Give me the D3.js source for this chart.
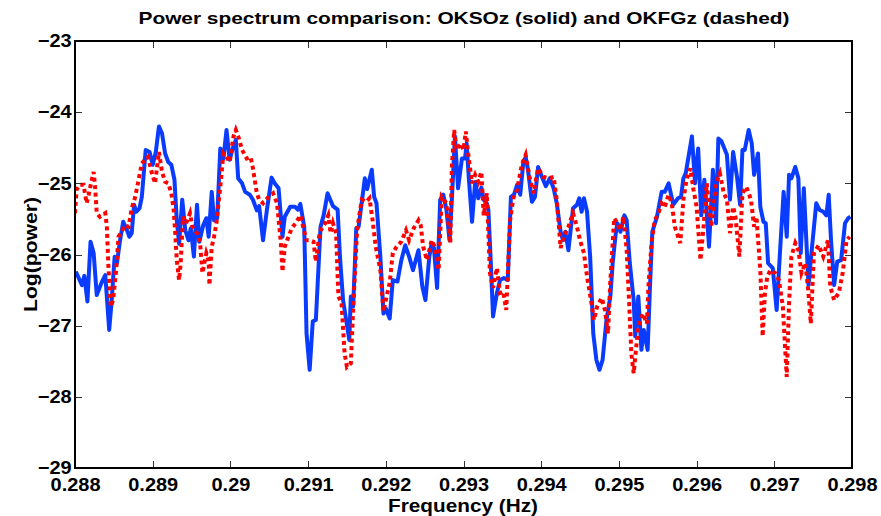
<!DOCTYPE html>
<meta charset="utf-8">
<style>
    body {
        margin: 0;
        background: #fff;
    }

    svg text {
        font-family: "Liberation Sans", Arial, Helvetica, sans-serif;
        font-weight: bold;
        fill: #000;
    }

    .tick line {
        stroke: #333;
        stroke-width: 1;
        shape-rendering: crispEdges;
    }
</style>

<body>
    <script src="https://d3js.org/d3.v7.min.js"></script>
    <script>

        // x axis ticks / labels
        var xTicks = [0.288, 0.289, 0.290, 0.291, 0.292, 0.293, 0.294, 0.295, 0.296, 0.297, 0.298];
        var xTickLabels = ["0.288", "0.289", "0.29", "0.291", "0.292", "0.293", "0.294", "0.295", "0.296", "0.297", "0.298"];
        var yTicks = [-29, -28, -27, -26, -25, -24, -23];
        var yTickLabels = ["\u221229", "\u221228", "\u221227", "\u221226", "\u221225", "\u221224", "\u221223"];

        // OKSOz (solid, blue)
        var solidFreq = [
            0.28801, 0.28809, 0.28812, 0.28816, 0.28820, 0.28824, 0.28828, 0.28834, 0.28839, 0.28844,
            0.28847, 0.28851, 0.28854, 0.28858, 0.28862, 0.28867, 0.28870, 0.28873, 0.28876, 0.28879,
            0.28883, 0.28886, 0.28891, 0.28896, 0.28900, 0.28904, 0.28908, 0.28912, 0.28916, 0.28920,
            0.28924, 0.28928, 0.28931, 0.28934, 0.28938, 0.28942, 0.28946, 0.28949, 0.28953, 0.28957,
            0.28960, 0.28965, 0.28969, 0.28972, 0.28976, 0.28979, 0.28983, 0.28987, 0.28991, 0.28995,
            0.28999, 0.29003, 0.29007, 0.29010, 0.29015, 0.29019, 0.29025, 0.29029, 0.29034, 0.29037,
            0.29042, 0.29047, 0.29053, 0.29057, 0.29062, 0.29067, 0.29070, 0.29077, 0.29083, 0.29087,
            0.29090, 0.29095, 0.29098, 0.29102, 0.29106, 0.29110, 0.29116, 0.29120, 0.29125, 0.29132,
            0.29138, 0.29141, 0.29145, 0.29153, 0.29155, 0.29158, 0.29162, 0.29165, 0.29170, 0.29173,
            0.29176, 0.29182, 0.29185, 0.29188, 0.29193, 0.29197, 0.29200, 0.29205, 0.29209, 0.29215,
            0.29220, 0.29225, 0.29230, 0.29235, 0.29242, 0.29247, 0.29251, 0.29256, 0.29259, 0.29262,
            0.29266, 0.29270, 0.29274, 0.29278, 0.29282, 0.29285, 0.29289, 0.29293, 0.29298, 0.29302,
            0.29304, 0.29307, 0.29311, 0.29315, 0.29319, 0.29323, 0.29326, 0.29330, 0.29332, 0.29335,
            0.29338, 0.29343, 0.29347, 0.29352, 0.29357, 0.29361, 0.29365, 0.29369, 0.29373, 0.29377,
            0.29380, 0.29383, 0.29388, 0.29392, 0.29396, 0.29401, 0.29406, 0.29411, 0.29416, 0.29420,
            0.29425, 0.29428, 0.29431, 0.29435, 0.29441, 0.29446, 0.29449, 0.29452, 0.29455, 0.29459,
            0.29463, 0.29467, 0.29471, 0.29475, 0.29479, 0.29484, 0.29489, 0.29492, 0.29496, 0.29498,
            0.29502, 0.29507, 0.29510, 0.29514, 0.29519, 0.29521, 0.29525, 0.29529, 0.29532, 0.29537,
            0.29540, 0.29543, 0.29549, 0.29555, 0.29559, 0.29564, 0.29570, 0.29576, 0.29580, 0.29583,
            0.29586, 0.29594, 0.29598, 0.29602, 0.29606, 0.29610, 0.29616, 0.29621, 0.29625, 0.29628,
            0.29632, 0.29639, 0.29643, 0.29647, 0.29652, 0.29656, 0.29659, 0.29662, 0.29667, 0.29671,
            0.29674, 0.29679, 0.29682, 0.29686, 0.29689, 0.29692, 0.29698, 0.29703, 0.29708, 0.29712,
            0.29716, 0.29719, 0.29722, 0.29727, 0.29731, 0.29734, 0.29738, 0.29744, 0.29748, 0.29754,
            0.29758, 0.29763, 0.29767, 0.29770, 0.29773, 0.29777, 0.29781, 0.29786, 0.29791, 0.29795,
            0.29798
        ];
        var solidPower = [
            -26.24, -26.43, -26.30, -26.66, -25.82, -25.98, -26.57, -26.40, -26.29, -27.06,
            -26.68, -26.03, -26.12, -25.80, -25.54, -25.66, -25.75, -25.70, -25.30, -25.40,
            -25.35, -25.19, -24.53, -24.56, -24.74, -24.56, -24.20, -24.30, -24.58, -24.70,
            -24.74, -24.95, -25.52, -25.85, -25.23, -25.66, -25.80, -25.63, -26.03, -25.30,
            -25.82, -25.59, -25.49, -25.75, -25.12, -25.52, -25.49, -24.51, -24.65, -24.25,
            -24.67, -24.51, -24.39, -24.93, -25.00, -25.12, -25.16, -25.23, -25.38, -25.32,
            -25.80, -25.37, -24.92, -25.00, -25.07, -25.75, -25.47, -25.33, -25.33, -25.37,
            -25.29, -25.61, -27.11, -27.62, -26.94, -26.92, -25.61, -25.45, -25.14, -25.32,
            -25.37, -26.03, -26.64, -27.20, -26.59, -26.73, -25.63, -25.61, -25.19, -24.93,
            -25.08, -24.81, -25.19, -25.28, -26.03, -26.83, -26.76, -26.90, -26.36, -26.38,
            -26.08, -25.87, -26.03, -26.22, -25.94, -26.45, -26.64, -26.03, -25.84, -25.91,
            -26.47, -25.23, -25.16, -25.37, -25.80, -25.23, -24.34, -25.07, -24.65, -24.65,
            -24.44, -24.95, -25.54, -24.98, -25.21, -25.06, -25.23, -25.28, -25.37, -26.08,
            -26.87, -26.54, -26.36, -26.33, -26.36, -25.19, -25.16, -25.02, -25.16, -24.70,
            -24.63, -24.81, -25.26, -25.19, -24.77, -24.91, -25.04, -24.93, -25.07, -25.28,
            -25.68, -25.80, -25.68, -25.94, -25.35, -25.30, -25.21, -25.40, -25.21, -25.40,
            -26.03, -27.11, -27.48, -27.62, -27.48, -26.92, -26.59, -26.12, -25.70, -25.56,
            -25.68, -25.45, -25.52, -26.12, -26.64, -27.15, -26.59, -27.34, -27.06, -27.34,
            -26.45, -25.68, -25.47, -25.12, -25.12, -25.00, -25.30, -25.21, -25.19, -24.93,
            -24.86, -24.34, -25.00, -24.51, -25.45, -24.95, -25.89, -24.81, -25.56, -24.37,
            -24.41, -24.60, -25.23, -24.56, -24.91, -25.30, -24.53, -24.53, -24.25, -24.44,
            -24.88, -24.58, -25.33, -25.54, -25.56, -26.12, -26.19, -26.78, -25.84, -25.12,
            -25.75, -24.88, -24.93, -24.77, -24.93, -25.98, -25.07, -26.43, -25.96, -25.28,
            -25.37, -25.40, -25.45, -25.16, -25.80, -26.43, -26.10, -26.08, -25.56, -25.49,
            -25.47
        ];

        // OKFGz (dashed, red)
        var dashedFreq = [
            0.28800, 0.28802, 0.28806, 0.28811, 0.28815, 0.28818, 0.28821, 0.28824, 0.28826, 0.28828,
            0.28832, 0.28839, 0.28841, 0.28843, 0.28846, 0.28849, 0.28853, 0.28856, 0.28860, 0.28864,
            0.28869, 0.28873, 0.28877, 0.28881, 0.28886, 0.28890, 0.28894, 0.28899, 0.28903, 0.28906,
            0.28908, 0.28912, 0.28916, 0.28920, 0.28924, 0.28927, 0.28929, 0.28931, 0.28934, 0.28936,
            0.28939, 0.28943, 0.28948, 0.28951, 0.28957, 0.28961, 0.28964, 0.28969, 0.28972, 0.28973,
            0.28976, 0.28979, 0.28982, 0.28987, 0.28991, 0.28995, 0.28999, 0.29004, 0.29007, 0.29011,
            0.29015, 0.29021, 0.29026, 0.29029, 0.29034, 0.29037, 0.29042, 0.29049, 0.29055, 0.29060,
            0.29065, 0.29067, 0.29070, 0.29073, 0.29079, 0.29084, 0.29090, 0.29094, 0.29098, 0.29102,
            0.29107, 0.29110, 0.29115, 0.29122, 0.29126, 0.29129, 0.29132, 0.29136, 0.29139, 0.29143,
            0.29147, 0.29150, 0.29155, 0.29158, 0.29163, 0.29169, 0.29175, 0.29179, 0.29183, 0.29187,
            0.29193, 0.29197, 0.29201, 0.29205, 0.29209, 0.29214, 0.29220, 0.29226, 0.29230, 0.29236,
            0.29242, 0.29245, 0.29248, 0.29253, 0.29259, 0.29263, 0.29268, 0.29272, 0.29278, 0.29283,
            0.29285, 0.29288, 0.29291, 0.29296, 0.29300, 0.29303, 0.29306, 0.29311, 0.29315, 0.29319,
            0.29323, 0.29326, 0.29330, 0.29334, 0.29338, 0.29343, 0.29347, 0.29351, 0.29355, 0.29360,
            0.29364, 0.29369, 0.29375, 0.29380, 0.29385, 0.29390, 0.29396, 0.29403, 0.29409, 0.29416,
            0.29420, 0.29425, 0.29429, 0.29435, 0.29441, 0.29446, 0.29450, 0.29455, 0.29459, 0.29464,
            0.29468, 0.29472, 0.29478, 0.29482, 0.29486, 0.29489, 0.29494, 0.29498, 0.29501, 0.29506,
            0.29510, 0.29513, 0.29516, 0.29519, 0.29521, 0.29525, 0.29531, 0.29536, 0.29538, 0.29542,
            0.29546, 0.29551, 0.29555, 0.29559, 0.29564, 0.29568, 0.29572, 0.29579, 0.29583, 0.29587,
            0.29592, 0.29596, 0.29600, 0.29605, 0.29609, 0.29613, 0.29619, 0.29625, 0.29630, 0.29635,
            0.29639, 0.29643, 0.29647, 0.29650, 0.29655, 0.29659, 0.29664, 0.29670, 0.29674, 0.29677,
            0.29682, 0.29685, 0.29688, 0.29691, 0.29695, 0.29701, 0.29706, 0.29711, 0.29716, 0.29719,
            0.29722, 0.29727, 0.29731, 0.29735, 0.29740, 0.29744, 0.29747, 0.29751, 0.29757, 0.29763,
            0.29769, 0.29772, 0.29777, 0.29783, 0.29788, 0.29793, 0.29797
        ];
        var dashedPower = [
            -25.42, -25.09, -25.02, -25.02, -25.28, -25.14, -24.98, -24.84, -25.07, -25.42,
            -25.47, -25.42, -25.61, -26.17, -26.73, -26.64, -26.22, -25.75, -25.68, -25.59,
            -25.61, -25.35, -25.21, -25.00, -24.72, -24.67, -24.63, -24.86, -25.00, -24.74,
            -24.56, -24.84, -24.98, -25.00, -25.14, -25.37, -25.70, -26.08, -26.36, -26.12,
            -25.47, -25.56, -25.42, -25.61, -25.70, -25.84, -26.26, -25.98, -26.08, -26.43,
            -25.89, -25.75, -25.56, -25.05, -24.58, -24.63, -24.70, -24.34, -24.25, -24.37,
            -24.53, -24.65, -24.63, -24.79, -25.14, -25.23, -25.28, -25.19, -25.14, -25.28,
            -25.84, -26.24, -25.89, -25.80, -25.63, -25.56, -25.45, -25.63, -25.80, -25.80,
            -25.82, -26.10, -25.68, -25.56, -25.45, -25.70, -25.56, -25.70, -26.59, -26.68,
            -27.39, -27.58, -27.53, -26.76, -25.66, -25.23, -25.26, -25.21, -25.52, -25.89,
            -26.22, -26.80, -26.59, -26.40, -25.98, -25.89, -25.82, -25.66, -25.80, -25.63,
            -25.52, -25.59, -25.89, -26.08, -25.80, -25.89, -26.22, -25.19, -25.28, -25.84,
            -24.77, -24.25, -24.53, -24.44, -24.53, -24.27, -24.58, -25.00, -24.88, -24.98,
            -24.84, -25.45, -25.14, -26.26, -26.47, -26.19, -26.54, -26.52, -26.78, -25.52,
            -25.21, -25.09, -24.74, -24.60, -24.91, -25.14, -24.79, -24.91, -24.93, -24.91,
            -25.23, -25.91, -25.75, -25.61, -25.42, -25.61, -25.80, -25.98, -26.31, -26.64,
            -26.92, -26.73, -26.61, -26.78, -27.11, -26.36, -25.49, -25.56, -25.66, -25.47,
            -25.94, -26.64, -27.39, -27.67, -27.44, -27.01, -26.83, -26.97, -26.45, -25.84,
            -25.52, -25.42, -25.28, -25.33, -25.16, -25.28, -25.61, -25.84, -25.23, -24.95,
            -24.79, -25.09, -25.33, -26.08, -25.61, -25.00, -25.61, -25.00, -24.86, -25.14,
            -25.23, -25.70, -25.33, -25.47, -26.03, -25.14, -25.05, -25.23, -25.61, -25.47,
            -26.22, -27.15, -26.54, -26.31, -26.22, -26.26, -26.36, -26.73, -27.72, -26.68,
            -26.03, -25.84, -25.94, -26.26, -26.12, -26.54, -26.97, -25.98, -25.87, -26.03,
            -25.80, -26.45, -26.64, -26.54, -26.26, -25.80, -25.75
        ];

        var margin = { top: 41, right: 29, bottom: 48, left: 75 },
            width = 881 - margin.left - margin.right,
            height = 516 - margin.top - margin.bottom;

        var x = d3.scaleLinear().domain([0.288, 0.298]).range([0, width]);
        var y = d3.scaleLinear().domain([-29, -23]).range([height, 0]);

        var svg = d3.select("body").append("svg")
            .attr("width", 881)
            .attr("height", 516);

        var g = svg.append("g")
            .attr("transform", "translate(" + margin.left + "," + margin.top + ")");

        var solid = solidFreq.map((f, i) => ({ f: f, p: solidPower[i] }));
        var dashed = dashedFreq.map((f, i) => ({ f: f, p: dashedPower[i] }));

        var line = d3.line()
            .x(d => x(d.f))
            .y(d => y(d.p));

        g.append("defs").append("clipPath").attr("id", "clip")
            .append("rect").attr("width", width).attr("height", height);

        var plot = g.append("g").attr("clip-path", "url(#clip)");

        plot.append("path")
            .datum(solid)
            .attr("d", line)
            .attr("fill", "none")
            .attr("stroke", "#0a3cff")
            .attr("stroke-width", 4)
            .attr("stroke-linejoin", "round");

        plot.append("path")
            .datum(dashed)
            .attr("d", line)
            .attr("fill", "none")
            .attr("stroke", "#ff0000")
            .attr("stroke-width", 4)
            .attr("stroke-dasharray", "4,3.5");

        // axes: ticks pointing inwards on all four sides
        var xFmt = (d, i) => xTickLabels[i];
        var yFmt = (d, i) => yTickLabels[i];

        g.append("g")
            .attr("transform", "translate(0," + height + ")")
            .call(d3.axisBottom(x).tickValues(xTicks).tickFormat(xFmt)
                .tickSizeInner(-7).tickSizeOuter(0).tickPadding(10));
        g.append("g")
            .call(d3.axisTop(x).tickValues(xTicks).tickFormat("")
                .tickSizeInner(-7).tickSizeOuter(0));
        g.append("g")
            .call(d3.axisLeft(y).tickValues(yTicks).tickFormat(yFmt)
                .tickSizeInner(-7).tickSizeOuter(0).tickPadding(3));
        g.append("g")
            .attr("transform", "translate(" + width + ",0)")
            .call(d3.axisRight(y).tickValues(yTicks).tickFormat("")
                .tickSizeInner(-7).tickSizeOuter(0));

        g.selectAll(".domain").remove();
        // the original text is a little wider than Arial, stretch it sideways
        g.selectAll(".tick text")
            .style("font-size", "18px")
            .style("font-family", null)
            .attr("transform", "scale(1.11,1)");

        g.append("rect")
            .attr("width", width)
            .attr("height", height)
            .attr("fill", "none")
            .attr("stroke", "#000")
            .attr("stroke-width", 2);

        svg.append("text")
            .attr("x", 464)
            .attr("y", 23.5)
            .attr("text-anchor", "middle")
            .attr("textLength", 651)
            .attr("lengthAdjust", "spacingAndGlyphs")
            .style("font-size", "17px")
            .text("Power spectrum comparison: OKSOz (solid) and OKFGz (dashed)");

        svg.append("text")
            .attr("x", 463)
            .attr("y", 511.5)
            .attr("text-anchor", "middle")
            .attr("textLength", 150)
            .attr("lengthAdjust", "spacingAndGlyphs")
            .style("font-size", "18px")
            .text("Frequency (Hz)");

        svg.append("text")
            .attr("transform", "translate(30," + (margin.top + height / 2) + ") rotate(-90)")
            .attr("text-anchor", "middle")
            .attr("dy", "0.35em")
            .attr("textLength", 115)
            .attr("lengthAdjust", "spacingAndGlyphs")
            .style("font-size", "19px")
            .text("Log(power)");

    </script>
</body>
